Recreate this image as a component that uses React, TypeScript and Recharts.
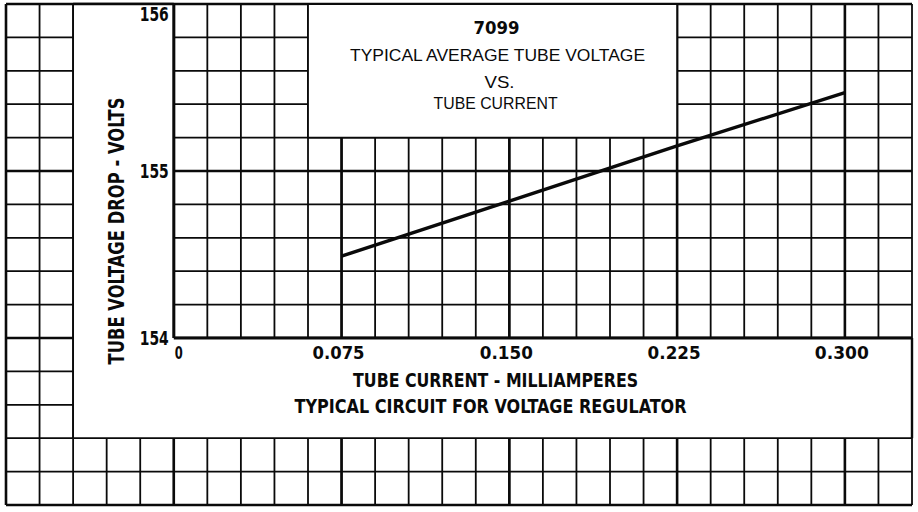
import React from 'react';
import {
  LineChart,
  Line,
  XAxis,
  YAxis,
  ReferenceArea,
  ReferenceLine,
  ReferenceDot,
} from 'recharts';

// ---------- data ----------
const currentMA = [0.075, 0.15, 0.225, 0.3];
const voltageDrop = [154.49, 154.82, 155.15, 155.47];

const xTickValues = [0, 0.075, 0.15, 0.225, 0.3];
const xTickLabels = ['0', '0.075', '0.150', '0.225', '0.300'];
const yTickValues = [154, 155, 156];
const yTickLabels = ['154', '155', '156'];

const chartTitle = '7099';
const subtitleLines = ['TYPICAL AVERAGE TUBE VOLTAGE', 'VS.', 'TUBE CURRENT'];
const xAxisTitle = 'TUBE CURRENT - MILLIAMPERES';
const footnote = 'TYPICAL CIRCUIT FOR VOLTAGE REGULATOR';
const yAxisTitle = 'TUBE VOLTAGE DROP - VOLTS';

// ---------- graph-paper layout (data units) ----------
const X_MIN = -0.075;
const X_MAX = 0.33;
const X_STEP = 0.015;
const Y_MIN = 153;
const Y_MAX = 156;
const Y_STEP = 0.2;
const gridX = Array.from({ length: 28 }, (_, i) => Math.round((X_MIN + i * X_STEP) * 1000) / 1000);
const gridY = Array.from({ length: 16 }, (_, i) => Math.round((Y_MIN + i * Y_STEP) * 10) / 10);
const majorX = [-0.075, 0, 0.075, 0.15, 0.225, 0.3];
const majorY = [153, 154, 155, 156];

const TITLE_BOX = { x1: 0.06, x2: 0.225, y1: 155.2, y2: 156 };
const YLABEL_BOX = { x1: -0.045, x2: 0, y1: 153.4, y2: 156 };
const BOTTOM_BOX = { x1: -0.045, x2: X_MAX, y1: 153.4, y2: 154 };

const data = currentMA.map((x, i) => ({ x, v: voltageDrop[i] }));

const INK = '#0a0a0a';
const BOLD_FONT = "'Liberation Sans Narrow', 'DejaVu Sans Condensed', 'Liberation Sans', Arial, sans-serif";
const THIN_FONT = "'Liberation Sans', 'DejaVu Sans', Arial, sans-serif";

type TextSpec = {
  key: string;
  x: number;
  y: number;
  dx: number;
  dy: number;
  text: string;
  size: number;
  weight: number | string;
  anchor: 'start' | 'middle' | 'end';
  len?: number;
  rotate?: boolean;
  family?: string;
  minY?: number;
};

const textDot = (s: TextSpec) => (
  <ReferenceDot
    key={s.key}
    x={s.x}
    y={s.y}
    r={0}
    ifOverflow="visible"
    zIndex={2000}
    shape={(p: any) => {
      const tx = p.cx + s.dx;
      let ty = p.cy + s.dy;
      if (s.minY !== undefined) ty = Math.max(ty, s.minY);
      return (
        <text
          x={tx}
          y={ty}
          textAnchor={s.anchor}
          fontFamily={s.family || BOLD_FONT}
          fontWeight={s.weight}
          fontSize={s.size}
          fill={INK}
          textLength={s.len}
          lengthAdjust={s.len ? 'spacingAndGlyphs' : undefined}
          transform={s.rotate ? `rotate(-90, ${tx}, ${ty})` : undefined}
        >
          {s.text}
        </text>
      );
    }}
  />
);

const xTickLen = [8, 52, 53, 53, 54];

const texts: TextSpec[] = [
  ...xTickValues.map((v, i) => ({
    key: 'xt' + i,
    x: v,
    y: 154,
    dx: i === 0 ? 1 : -3,
    dy: 21,
    text: xTickLabels[i],
    size: 18,
    weight: 700,
    anchor: (i === 0 ? 'start' : 'middle') as 'start' | 'middle',
    len: xTickLen[i],
  })),
  ...yTickValues.map((v, i) => ({
    key: 'yt' + i,
    x: 0,
    y: v,
    dx: -5,
    dy: 7,
    text: yTickLabels[i],
    size: 20,
    weight: 700,
    anchor: 'end' as const,
    len: 29,
    minY: 21,
  })),
  { key: 't0', x: 0.1425, y: 156, dx: 4, dy: 30, text: chartTitle, size: 18, weight: 700, anchor: 'middle', len: 46 },
  { key: 't1', x: 0.1425, y: 156, dx: 5, dy: 57, text: subtitleLines[0], size: 17, weight: 400, anchor: 'middle', len: 295, family: THIN_FONT },
  { key: 't2', x: 0.1425, y: 156, dx: 7, dy: 84, text: subtitleLines[1], size: 17, weight: 400, anchor: 'middle', len: 30, family: THIN_FONT },
  { key: 't3', x: 0.1425, y: 156, dx: 3, dy: 105, text: subtitleLines[2], size: 17, weight: 400, anchor: 'middle', len: 124, family: THIN_FONT },
  { key: 'xa', x: 0.1425, y: 154, dx: 3, dy: 49, text: xAxisTitle, size: 20, weight: 700, anchor: 'middle', len: 285 },
  { key: 'fn', x: 0.1425, y: 154, dx: -2, dy: 75, text: footnote, size: 20, weight: 700, anchor: 'middle', len: 392 },
  { key: 'ya', x: -0.0225, y: 155, dx: 1, dy: 60, text: yAxisTitle, size: 21, weight: 700, anchor: 'middle', len: 267, rotate: true },
];

export default function App() {
  return (
    <div style={{ position: 'absolute', left: 0, top: 0, width: 918, height: 512, background: '#fff' }}>
      <LineChart
        width={918}
        height={512}
        data={data}
        margin={{ top: 4, right: 6, bottom: 7, left: 6 }}
      >
        <XAxis
          type="number"
          dataKey="x"
          domain={[X_MIN, X_MAX]}
          ticks={gridX}
          height={0}
          tick={false}
          tickLine={false}
          axisLine={false}
          allowDataOverflow
        />
        <YAxis
          type="number"
          domain={[Y_MIN, Y_MAX]}
          ticks={gridY}
          width={0}
          tick={false}
          tickLine={false}
          axisLine={false}
          allowDataOverflow
        />

        {gridX.map((v) => (
          <ReferenceLine key={'gx' + v} x={v} stroke={INK} strokeWidth={1.8} zIndex={5} ifOverflow="visible" />
        ))}
        {gridY.map((v) => (
          <ReferenceLine key={'gy' + v} y={v} stroke={INK} strokeWidth={1.8} zIndex={5} ifOverflow="visible" />
        ))}
        {majorX.map((v) => (
          <ReferenceLine key={'mx' + v} x={v} stroke={INK} strokeWidth={2.6} zIndex={10} ifOverflow="visible" />
        ))}
        {majorY.map((v) => (
          <ReferenceLine key={'my' + v} y={v} stroke={INK} strokeWidth={2.4} zIndex={10} ifOverflow="visible" />
        ))}

        <ReferenceArea {...BOTTOM_BOX} fill="#fff" fillOpacity={1} stroke="none" zIndex={20} ifOverflow="visible" />
        <ReferenceArea {...YLABEL_BOX} fill="#fff" fillOpacity={1} stroke="none" zIndex={20} ifOverflow="visible" />
        <ReferenceArea {...TITLE_BOX} fill="#fff" fillOpacity={1} stroke={INK} strokeWidth={1.8} zIndex={21} ifOverflow="visible" />

        {/* outline of the L-shaped label area */}
        <ReferenceLine
          segment={[{ x: YLABEL_BOX.x1, y: BOTTOM_BOX.y1 }, { x: X_MAX, y: BOTTOM_BOX.y1 }]}
          stroke={INK}
          strokeWidth={1.8}
          zIndex={30}
          ifOverflow="visible"
        />
        <ReferenceLine
          segment={[{ x: YLABEL_BOX.x1, y: BOTTOM_BOX.y1 }, { x: YLABEL_BOX.x1, y: Y_MAX }]}
          stroke={INK}
          strokeWidth={1.8}
          zIndex={30}
          ifOverflow="visible"
        />
        <ReferenceLine
          segment={[{ x: X_MAX, y: BOTTOM_BOX.y1 }, { x: X_MAX, y: BOTTOM_BOX.y2 }]}
          stroke={INK}
          strokeWidth={2.4}
          zIndex={30}
          ifOverflow="visible"
        />
        <ReferenceLine
          segment={[{ x: YLABEL_BOX.x1, y: Y_MAX }, { x: 0, y: Y_MAX }]}
          stroke={INK}
          strokeWidth={2.4}
          zIndex={30}
          ifOverflow="visible"
        />
        {/* heavy axes */}
        <ReferenceLine
          segment={[{ x: 0, y: 154 }, { x: 0, y: Y_MAX }]}
          stroke={INK}
          strokeWidth={3}
          zIndex={31}
          ifOverflow="visible"
        />
        <ReferenceLine
          segment={[{ x: 0, y: 154 }, { x: X_MAX, y: 154 }]}
          stroke={INK}
          strokeWidth={3}
          zIndex={31}
          ifOverflow="visible"
        />

        <Line
          type="linear"
          dataKey="v"
          stroke={INK}
          strokeWidth={3.4}
          dot={false}
          activeDot={false}
          isAnimationActive={false}
          zIndex={400}
        />

        {texts.map((s) => textDot(s))}
      </LineChart>
    </div>
  );
}
